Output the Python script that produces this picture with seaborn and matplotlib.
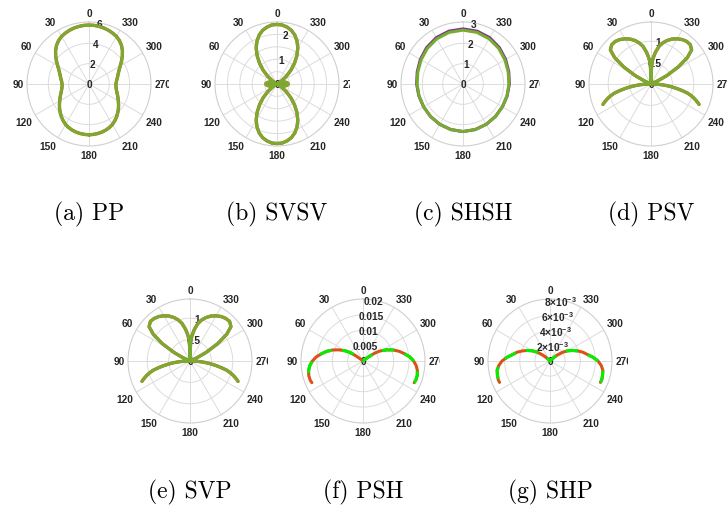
import numpy as np
import pandas as pd
import matplotlib
matplotlib.use("Agg")
import matplotlib.pyplot as plt
import seaborn as sns
from matplotlib.transforms import Bbox, TransformedBbox

sns.set_theme(style="white")
plt.rcParams["font.family"] = ["Liberation Sans", "DejaVu Sans"]
plt.rcParams["mathtext.fontset"] = "custom"
plt.rcParams["mathtext.rm"] = "Liberation Sans:bold"
plt.rcParams["mathtext.it"] = "Liberation Sans:bold:italic"
plt.rcParams["mathtext.bf"] = "Liberation Sans:bold"

# ---- coefficient curves (angle in degrees, one half; curves are mirror-symmetric) ----
pp_theta = [0, 5, 10, 15, 20, 25, 30, 35, 40, 45, 50, 55, 60, 65, 70, 75, 80, 85, 90,
            95, 100, 105, 110, 115, 120, 125, 130, 135, 140, 145, 150, 155, 160, 165,
            170, 175, 180]
pp_exact = [5.8, 5.79, 5.75, 5.7, 5.62, 5.52, 5.4, 5.22, 4.97, 4.65, 4.28, 3.9, 3.55,
            3.27, 3.07, 2.92, 2.8, 2.7, 2.65, 2.66, 2.72, 2.82, 2.97, 3.14, 3.33, 3.55,
            3.78, 4.0, 4.22, 4.42, 4.6, 4.73, 4.83, 4.9, 4.95, 4.98, 5.0]
pp_approx = list(pp_exact)

svsv_theta = [0, 5, 10, 15, 20, 25, 30, 35, 40, 45, 50, 55, 60, 65, 70, 75, 80, 85, 90,
              95, 100, 105, 110, 115, 120, 125, 130, 135, 140, 145, 150, 155, 160, 165,
              170, 175, 180]
svsv_exact = [2.4, 2.39, 2.33, 2.24, 2.1, 1.91, 1.68, 1.4, 1.1, 0.8, 0.5, 0.24, 0.07,
              0.1, 0.2, 0.3, 0.38, 0.43, 0.45, 0.43, 0.38, 0.3, 0.2, 0.1, 0.07, 0.24,
              0.5, 0.8, 1.1, 1.4, 1.68, 1.91, 2.1, 2.24, 2.33, 2.39, 2.4]
svsv_approx = list(svsv_exact)

shsh_theta = [0, 15, 30, 45, 60, 75, 90, 105, 120, 135, 150, 165, 180]
shsh_exact = [2.71, 2.69, 2.63, 2.53, 2.42, 2.33, 2.28, 2.25, 2.24, 2.26, 2.29, 2.32, 2.34]
shsh_approx = [2.65, 2.63, 2.57, 2.48, 2.38, 2.3, 2.26, 2.24, 2.24, 2.26, 2.29, 2.32, 2.34]

psv_theta = [0, 1, 2, 3, 5, 8, 12, 16, 20, 25, 30, 35, 40, 45, 50, 54, 58, 62, 65, 68,
             75, 85, 90, 92, 94, 96, 98, 100, 102, 104, 106, 108, 110, 112, 113]
psv_exact = [0.0, 0.25, 0.42, 0.52, 0.62, 0.75, 0.9, 1.0, 1.08, 1.16, 1.22, 1.27, 1.3,
             1.3, 1.24, 1.05, 0.75, 0.42, 0.18, 0.03, 0.02, 0.02, 0.05, 0.14, 0.26, 0.38,
             0.5, 0.62, 0.75, 0.88, 0.97, 1.05, 1.12, 1.19, 1.22]
psv_approx = list(psv_exact)

svp_theta = list(psv_theta)
svp_exact = [0.0, 0.25, 0.42, 0.52, 0.62, 0.75, 0.9, 1.0, 1.08, 1.16, 1.22, 1.27, 1.3,
             1.31, 1.25, 1.06, 0.76, 0.42, 0.18, 0.03, 0.02, 0.02, 0.05, 0.14, 0.26, 0.38,
             0.5, 0.62, 0.75, 0.88, 0.97, 1.05, 1.12, 1.19, 1.22]
svp_approx = list(svp_exact)

psh_theta = [0, 45, 50, 52, 54, 56, 58, 60, 65, 70, 75, 80, 85, 90, 95, 100, 105, 110, 113]
psh_exact = [0.0, 0.0, 0.0005, 0.0012, 0.0027, 0.0045, 0.0056, 0.0066, 0.0086, 0.0105,
             0.0122, 0.0137, 0.0153, 0.0165, 0.0174, 0.018, 0.0183, 0.0183, 0.0181]
psh_approx = list(psh_exact)

shp_theta = [0, 40, 45, 48, 50, 55, 60, 65, 70, 75, 80, 85, 90, 95, 100, 105, 110, 113]
shp_exact = [0.0, 0.0, 0.0002, 0.0008, 0.0012, 0.002, 0.0027, 0.0033, 0.0039, 0.0045,
             0.005, 0.0057, 0.00635, 0.0068, 0.0071, 0.0072, 0.00728, 0.00725]
shp_approx = list(shp_exact)

# ---- radial tick values / labels ----
pp_rticks, pp_rlabels = [0, 2, 4, 6], ["0", "2", "4", "6"]
svsv_rticks, svsv_rlabels = [0, 1, 2], ["0", "1", "2"]
shsh_rticks, shsh_rlabels = [0, 1, 2, 3], ["0", "1", "2", "3"]
psv_rticks, psv_rlabels = [0, 0.5, 1], ["0", "0.5", "1"]
psh_rticks, psh_rlabels = [0, 0.005, 0.01, 0.015, 0.02], ["0", "0.005", "0.01", "0.015", "0.02"]
shp_rticks = [0, 0.002, 0.004, 0.006, 0.008]
shp_rlabels = ["0", r"$2{\times}10^{-3}$", r"$4{\times}10^{-3}$",
               r"$6{\times}10^{-3}$", r"$8{\times}10^{-3}$"]

captions = ["(a) PP", "(b) SVSV", "(c) SHSH", "(d) PSV", "(e) SVP", "(f) PSH", "(g) SHP"]
theta_ticks = list(range(0, 360, 30))

GREEN = "#77AC30"
RED = "#D95319"
PURPLE = "#7E2F8E"
LIME = "#00F000"
GRID = "#dcdcdc"
TXT = "#262626"
DASH = (0, (4, 3.5))

W, H = 727, 510
R = 62
fig = plt.figure(figsize=(W / 100, H / 100), dpi=100)
fig.patch.set_facecolor("white")


def full_curve(theta, r):
    theta = np.asarray(theta, dtype=float)
    r = np.asarray(r, dtype=float)
    th = np.concatenate([-theta[::-1], theta[1:]])
    rr = np.concatenate([r[::-1], r[1:]])
    return np.deg2rad(th), rr


def draw_line(ax, theta, r, color, lw, ls="-", z=3):
    th, rr = full_curve(theta, r)
    df = pd.DataFrame({"theta": th, "r": rr})
    sns.lineplot(data=df, x="theta", y="r", ax=ax, sort=False, estimator=None,
                 color=color, linewidth=lw, linestyle=ls, zorder=z)


def panel(cx, cy, clip_x, rmax, rings, rticks, rlabels, curves, caption, cap_y,
          rfont=7.3):
    ax = fig.add_axes([(cx - R) / W, 1 - (cy + R) / H, 2 * R / W, 2 * R / H],
                      projection="polar")
    ax.set_theta_zero_location("N")
    ax.set_theta_direction(1)
    for c in curves:
        draw_line(ax, *c)
    ax.set_xlabel("")
    ax.set_ylabel("")
    ax.set_ylim(0, rmax)
    ax.set_xticks(np.deg2rad(theta_ticks))
    ax.set_xticklabels([])
    ax.set_yticks(rings)
    ax.set_yticklabels([])
    ax.grid(True, color=GRID, linewidth=0.7)
    ax.spines["polar"].set_color("#cfcfcf")
    ax.spines["polar"].set_linewidth(0.8)
    ax.set_facecolor("white")

    clip = TransformedBbox(Bbox.from_extents(clip_x[0] / W, 0, clip_x[1] / W, 1),
                           fig.transFigure)
    for deg in theta_ticks:
        th = np.deg2rad(deg)
        ux, uy = -np.sin(th), np.cos(th)
        ha = "center" if abs(ux) < 1e-6 else ("left" if ux > 0 else "right")
        va = "center" if abs(uy) < 1e-6 else ("bottom" if uy > 0 else "top")
        t = ax.annotate(str(deg), xy=(th, rmax), xytext=(2.6 * ux, 2.6 * uy),
                        textcoords="offset points", ha=ha, va=va, fontsize=7.3,
                        fontweight="bold", color=TXT, annotation_clip=False)
        t.set_clip_box(clip)
        t.set_clip_on(True)

    for val, lab in zip(rticks, rlabels):
        ax.text(np.deg2rad(-10), val, lab, ha="center", va="center", fontsize=rfont,
                fontweight="bold", color=TXT, zorder=2.6)

    fig.text(cx / W, 1 - cap_y / H, caption, ha="center", va="center",
             family="cmr10", fontsize=17, color="black")
    return ax


row1, row2 = 85, 362
cap1, cap2 = 214, 492

panel(89, row1, (0, 169), 6.1, [2, 4], pp_rticks, pp_rlabels,
      [(pp_theta, pp_exact, RED, 2.4), (pp_theta, pp_approx, GREEN, 2.2)],
      captions[0], cap1)
panel(277, row1, (171, 350), 2.5, [0.5, 1, 1.5, 2], svsv_rticks, svsv_rlabels,
      [(svsv_theta, svsv_exact, RED, 2.4), (svsv_theta, svsv_approx, GREEN, 2.2)],
      captions[1], cap1)
panel(463, row1, (352, 540), 3.05, [1, 2], shsh_rticks, shsh_rlabels,
      [(shsh_theta, shsh_exact, PURPLE, 2.2), (shsh_theta, shsh_approx, GREEN, 2.2)],
      captions[2], cap1)
panel(651, row1, (541, 727), 1.45, [0.5, 1], psv_rticks, psv_rlabels,
      [(psv_theta, psv_exact, RED, 2.4), (psv_theta, psv_approx, GREEN, 2.2)],
      captions[3], cap1)
panel(190, row2, (100, 268), 1.45, [0.5, 1], psv_rticks, psv_rlabels,
      [(svp_theta, svp_exact, RED, 2.4), (svp_theta, svp_approx, GREEN, 2.2)],
      captions[4], cap2)
panel(363, row2, (270, 440), 0.0202, [0.005, 0.01, 0.015], psh_rticks, psh_rlabels,
      [(psh_theta, psh_exact, RED, 2.2), (psh_theta, psh_approx, LIME, 2.2, DASH, 3.1)],
      captions[5], cap2)
panel(550, row2, (442, 628), 0.0082, [0.002, 0.004, 0.006], shp_rticks, shp_rlabels,
      [(shp_theta, shp_exact, RED, 2.2), (shp_theta, shp_approx, LIME, 2.2, DASH, 3.1)],
      captions[6], cap2, rfont=7.3)

fig.savefig("out.png", dpi=100, facecolor="white")
